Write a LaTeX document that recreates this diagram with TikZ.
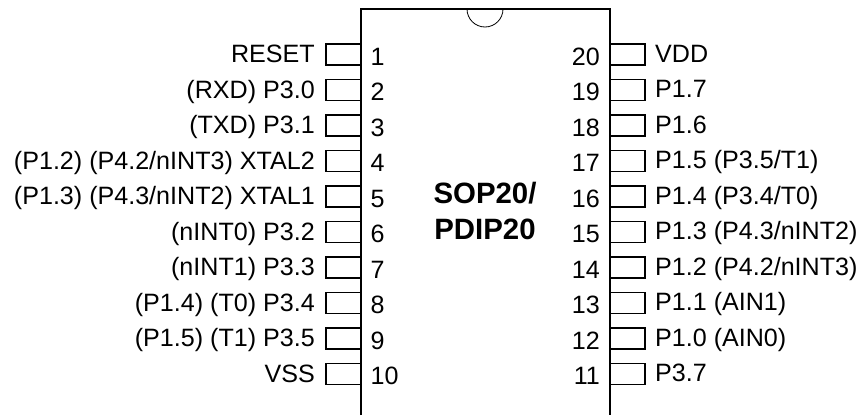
\documentclass[tikz,border=0pt]{standalone}
\usepackage{fontspec}
\setmainfont{Liberation Sans}
\begin{document}
\begin{tikzpicture}[x=1pt,y=-1pt,
  lbl/.style={inner sep=0pt,font=\fontsize{25.1}{29}\selectfont},
  rlbl/.style={lbl,anchor=base east},
  llbl/.style={lbl,anchor=base west},
  pinbox/.style={draw=black,line width=1.2pt,fill=white,minimum width=35pt,minimum height=21pt,inner sep=0pt,outer sep=0pt}]
\useasboundingbox (0,0) rectangle (862,415);
\draw[line width=1.2pt] (361,415) -- (361,9) -- (610,9) -- (610,415);
\draw[line width=0.8pt] (467,9) arc[start angle=180,end angle=0,radius=18];
\foreach \n/\t [count=\i from 0] in {1/{RESET},2/{(RXD) P3.0},3/{(TXD) P3.1},4/{(P1.2) (P4.2/nINT3) XTAL2},5/{(P1.3) (P4.3/nINT2) XTAL1},6/{(nINT0) P3.2},7/{(nINT1) P3.3},8/{(P1.4) (T0) P3.4},9/{(P1.5) (T1) P3.5},10/{VSS}}{
  \pgfmathsetmacro\yy{54.5+35.5*\i}
  \node[pinbox] (l\n) at (343.5,\yy) {};
  \node[rlbl] (lt\n) at (315,\yy+8) {\t};
  \node[llbl] (ln\n) at (370.5,\yy+10.5) {\n};
}
\foreach \n/\t [count=\i from 0] in {20/{VDD},19/{P1.7},18/{P1.6},17/{P1.5 (P3.5/T1)},16/{P1.4 (P3.4/T0)},15/{P1.3 (P4.3/nINT2)},14/{P1.2 (P4.2/nINT3)},13/{P1.1 (AIN1)},12/{P1.0 (AIN0)},11/{P3.7}}{
  \pgfmathsetmacro\yy{54.5+35.5*\i}
  \node[pinbox] (r\n) at (627.5,\yy) {};
  \node[llbl] (rt\n) at (655,\yy+7.5) {\t};
  \node[rlbl] (rn\n) at (600,\yy+10.5) {\n};
}
\node[lbl,font=\fontsize{29.4}{36.5}\selectfont\bfseries,align=center] (title) at (485,211) {SOP20/\\PDIP20};
\end{tikzpicture}
\end{document}
